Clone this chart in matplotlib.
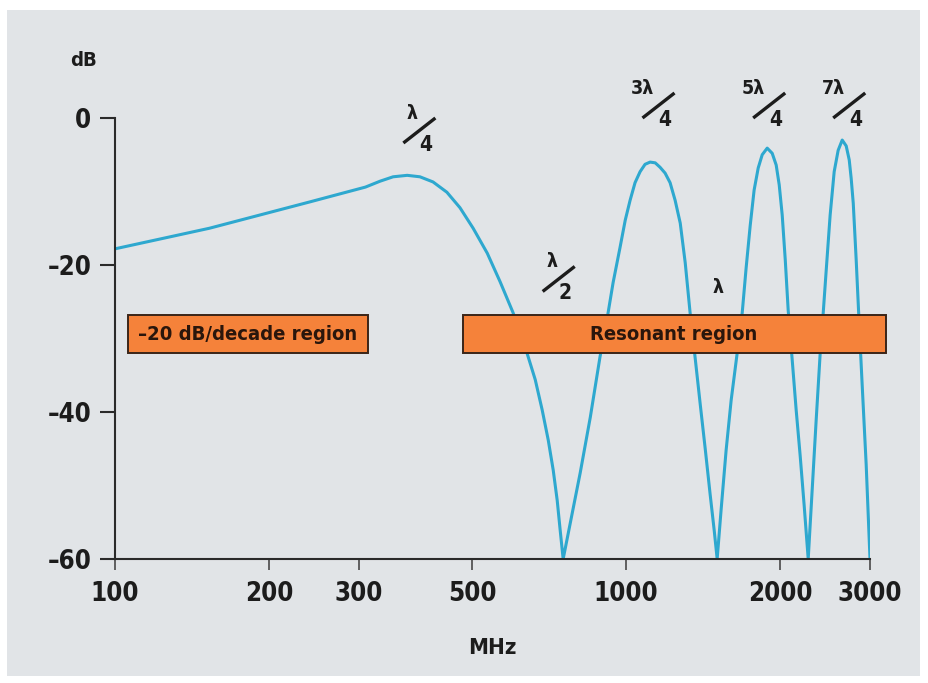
import matplotlib.pyplot as plt
from matplotlib.patches import Rectangle
from matplotlib.lines import Line2D
from matplotlib.ticker import NullLocator
import matplotlib.transforms as mtransforms

# curve (MHz, dB)
freq = [100, 153, 241, 309, 330, 350, 373, 395, 419, 446, 473, 502, 535, 567,
        601, 620, 640, 664, 685, 704, 720, 733, 743, 753,
        813, 851, 889, 922, 943, 973, 996, 1018, 1041, 1065, 1089, 1114, 1140, 1165, 1192,
        1219, 1247, 1276, 1305, 1334, 1365, 1396, 1428, 1460, 1487, 1507,
        1534, 1569, 1605, 1649, 1687, 1717, 1749, 1780, 1813, 1846, 1888, 1931, 1966, 1993,
        2020, 2048, 2075, 2113, 2151, 2190, 2230, 2271,
        2312, 2354, 2397, 2430, 2463, 2507, 2553, 2599, 2647, 2695, 2732, 2756, 2782, 2819,
        2858, 2896, 2949, 3000]
gain = [-17.8, -15.0, -11.4, -9.4, -8.6, -8.0, -7.8, -8.0, -8.7, -10.1, -12.2, -15.0, -18.4, -22.3,
        -26.5, -29.2, -32.0, -35.6, -39.7, -43.8, -47.9, -52.0, -56.1, -60,
        -48.3, -40.7, -32.5, -26.5, -22.4, -17.6, -13.9, -11.2, -8.8, -7.3, -6.3, -6.0, -6.1, -6.7, -7.5,
        -8.8, -11.2, -14.3, -19.7, -26.5, -32.7, -38.9, -45.0, -51.2, -56.1, -60,
        -53.3, -45.2, -38.4, -32.0, -26.5, -20.4, -14.6, -9.8, -6.8, -5.0, -4.1, -4.8, -6.4, -9.1,
        -13.2, -19.3, -26.1, -32.9, -39.7, -45.9, -52.7, -60,
        -50.6, -41.1, -32.0, -26.5, -20.7, -13.2, -7.3, -4.4, -3.0, -3.8, -5.7, -8.2, -11.6, -19.3,
        -28.2, -36.3, -47.2, -60]

xticks = [100, 200, 300, 500, 1000, 2000, 3000]
xlabels = ['100', '200', '300', '500', '1000', '2000', '3000']
yticks = [0, -20, -40, -60]
ylabels = ['0', '–20', '–40', '–60']

# region boxes: (label, f_start, f_end, dB_low, dB_high, text_f)
regions = [('–20 dB/decade region', 106, 313, -32.0, -26.8, 182),
           ('Resonant region', 480, 3227, -32.0, -26.8, 1241)]

# wavelength labels: (numerator, denominator, f, dB)
fractions = [('λ', '4', 394, -1.7), ('3λ', '4', 1157, 1.7), ('5λ', '4', 1905, 1.7),
             ('7λ', '4', 2732, 1.7), ('λ', '2', 738, -21.9)]
single_lambda = (1514, -23.1)

plt.rcParams['font.family'] = ['DejaVu Sans']
plt.rcParams['font.stretch'] = 'condensed'
plt.rcParams['font.weight'] = 'bold'
ink = '#1c1c1c'

fig = plt.figure(figsize=(9.29, 6.83), dpi=100)
fig.patch.set_facecolor('white')
fig.add_artist(Rectangle((7 / 929, 1 - 676 / 683), 913 / 929, 666 / 683,
                         transform=fig.transFigure, facecolor='#e1e4e7', edgecolor='none', zorder=0))

ax = fig.add_axes([115 / 929, 1 - 559 / 683, 755 / 929, 441 / 683])
ax.set_facecolor('none')
ax.plot(freq, gain, color='#2ea8cf', lw=2.2, zorder=2)

ax.set_xscale('log')
ax.set_xlim(100, 3000)
ax.set_ylim(-60, 0)
ax.set_xticks(xticks)
ax.set_xticklabels(xlabels)
ax.xaxis.set_minor_locator(NullLocator())
ax.set_yticks(yticks)
ax.set_yticklabels(ylabels)
for s in ['top', 'right']:
    ax.spines[s].set_visible(False)
for s in ['left', 'bottom']:
    ax.spines[s].set_color('#2a2a2a')
    ax.spines[s].set_linewidth(1.5)
ax.tick_params(axis='x', length=8, width=1.3, color='#555555', pad=8, labelsize=18.5, labelcolor=ink)
ax.tick_params(axis='y', length=11, width=1.5, color='#2a2a2a', pad=6, labelsize=18.5, labelcolor=ink)

ax.set_xlabel('MHz', fontsize=16, fontweight='bold', color=ink, labelpad=22)
fig.text(84 / 929, 1 - 61 / 683, 'dB', fontsize=14.5, color=ink, ha='center', va='center')

for label, f0, f1, lo, hi, tf in regions:
    ax.add_patch(Rectangle((f0, lo), f1 - f0, hi - lo, facecolor='#f5823a', edgecolor='#3a2418',
                           lw=1.4, zorder=3, clip_on=False))
    ax.text(tf, (lo + hi) / 2, label, fontsize=14.5, color='#2a160c', ha='center', va='center',
            zorder=4, clip_on=False)

for num, den, f, db in fractions:
    tr = fig.dpi_scale_trans + mtransforms.ScaledTranslation(f, db, ax.transData)
    nx = -0.07 if len(num) == 1 else -0.16
    ax.add_artist(Line2D([-0.16, 0.16], [-0.125, 0.125], transform=tr, color=ink, lw=2.4,
                         solid_capstyle='butt', clip_on=False))
    ax.text(nx, 0.17, num, transform=tr, fontsize=14, color=ink, ha='center', va='center')
    ax.text(0.065, -0.145, den, transform=tr, fontsize=15, color=ink, ha='center', va='center')

ax.text(single_lambda[0], single_lambda[1], 'λ', fontsize=14, color=ink, ha='center', va='center')

plt.savefig('out.png', dpi=100)
